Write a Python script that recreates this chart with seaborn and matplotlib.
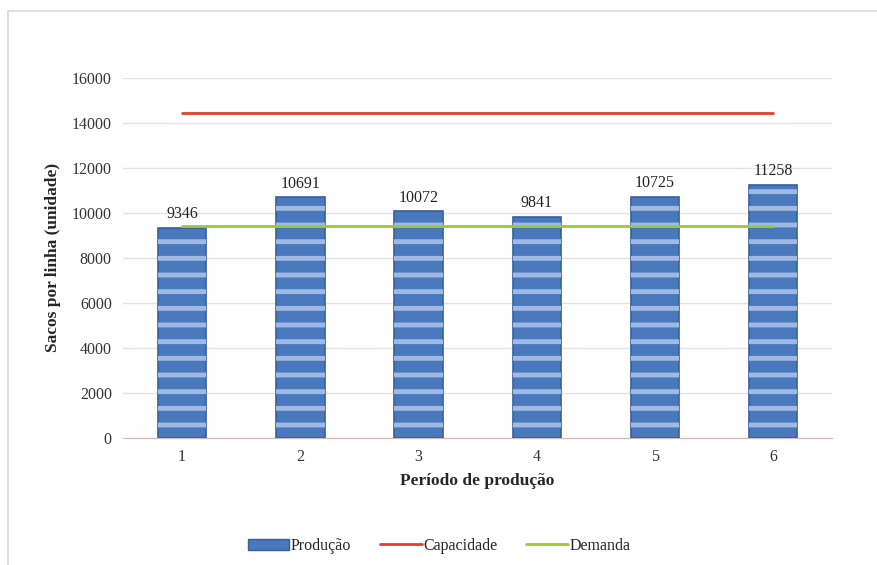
import pandas as pd
import matplotlib.pyplot as plt
import seaborn as sns
from matplotlib.patches import Rectangle, Patch
from matplotlib.lines import Line2D

# Dados
periodos = ['1', '2', '3', '4', '5', '6']
producao = [9346, 10691, 10072, 9841, 10725, 11258]
capacidade = [14450, 14450, 14450, 14450, 14450, 14450]
demanda = [9430, 9430, 9430, 9430, 9430, 9430]

df = pd.DataFrame({'Periodo': periodos, 'Producao': producao,
                   'Capacidade': capacidade, 'Demanda': demanda})

sns.set_style('white')
plt.rcParams['font.family'] = ['Liberation Serif', 'DejaVu Serif']
plt.rcParams['hatch.linewidth'] = 3.5

fig = plt.figure(figsize=(8.78, 5.65), dpi=100)
ax = fig.add_axes([0.140, 0.225, 0.808, 0.637])

# barras
sns.barplot(data=df, x='Periodo', y='Producao', color='#4a78bd', width=0.41,
            edgecolor='#35609e', linewidth=1.2, saturation=1, ax=ax, zorder=3)
# listras horizontais claras
for p in ax.patches:
    ax.add_patch(Rectangle(p.get_xy(), p.get_width(), p.get_height(),
                           fill=False, hatch='-', edgecolor='#9fb9e2',
                           linewidth=0, zorder=4))

sns.lineplot(data=df, x='Periodo', y='Capacidade', color='#e0402e', linewidth=2,
             ax=ax, zorder=5)
sns.lineplot(data=df, x='Periodo', y='Demanda', color='#9cc83c', linewidth=2,
             ax=ax, zorder=5)

for i, v in enumerate(producao):
    ax.text(i, v + 250, str(v), ha='center', va='bottom', fontsize=11.5, color='#222222')

ax.set_ylim(0, 16000)
ax.set_xlim(-0.5, 5.5)
ax.set_yticks(range(0, 16001, 2000))
ax.yaxis.grid(True, color='#e3e3e3', linewidth=1)
ax.set_axisbelow(True)
for s in ['top', 'right', 'left']:
    ax.spines[s].set_visible(False)
ax.spines['bottom'].set_color('#d9b8b0')
ax.tick_params(axis='both', length=0, labelsize=11.5, colors='#333333', pad=8)

ax.set_xlabel('Período de produção', fontsize=12.5, fontweight='bold', labelpad=6)
ax.set_ylabel('Sacos por linha (unidade)', fontsize=12.5, fontweight='bold', labelpad=8)

handles = [Patch(facecolor='#4a78bd', edgecolor='#35609e'),
           Line2D([0], [0], color='#e0402e', linewidth=2),
           Line2D([0], [0], color='#9cc83c', linewidth=2)]
fig.legend(handles, ['Produção', 'Capacidade', 'Demanda'], loc='center',
           bbox_to_anchor=(0.5, 0.034), ncol=3, frameon=False, fontsize=11.5,
           handlelength=2.6, handletextpad=0.1, columnspacing=1.8)

# moldura
fig.add_artist(Rectangle((0.009, -0.01), 1.0, 0.99, transform=fig.transFigure,
                         fill=False, edgecolor='#d8d8d8', linewidth=1.2))

fig.savefig('out.png', dpi=100)
